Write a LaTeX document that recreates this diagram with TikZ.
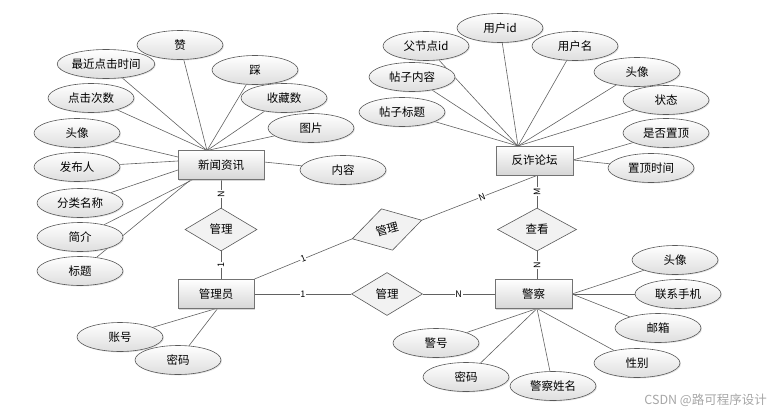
\documentclass[tikz,border=0pt]{standalone}
\usepackage{fontspec}
\setmainfont{Noto Sans CJK SC}
\usetikzlibrary{shapes.geometric,shadows}
\pgfdeclarelayer{bg}
\pgfsetlayers{bg,main}
\begin{document}
\begin{tikzpicture}[x=1pt,y=-1pt,
  txt/.style={font=\fontsize{11.5}{13}\selectfont},
  ent/.style={txt, draw=black!55, line width=0.9pt, top color=white, bottom color=black!16,
    minimum width=77pt, minimum height=29pt, inner sep=0pt,
    drop shadow={shadow xshift=1.3pt, shadow yshift=-1.3pt, fill=black!30}},
  attr/.style={txt, ellipse, draw=black!65, line width=0.6pt, top color=white, bottom color=black!13,
    minimum width=86pt, minimum height=29pt, inner sep=0pt,
    drop shadow={shadow xshift=1pt, shadow yshift=-1pt, fill=black!20}},
  rel/.style={txt, diamond, draw=black!65, line width=0.6pt, fill=black!5,
    minimum width=72pt, minimum height=43pt, inner sep=0pt, aspect=1.67},
  ln/.style={draw=black!62, line width=0.6pt},
  card/.style={fill=white, inner sep=0.6pt, font=\fontsize{9}{9}\selectfont}
]
\useasboundingbox (0,0) rectangle (775,415);

% entities
\node[ent, minimum width=86pt] (xw) at (221,165) {新闻资讯};
\node[ent] (ft) at (534.5,160.5) {反诈论坛};
\node[ent, minimum width=76pt] (gly) at (216,294) {管理员};
\node[ent] (jc) at (533.5,294) {警察};

% relationships
\node[rel] (r1) at (221,229.5) {管理};
\node[rel, minimum width=79pt] (ck) at (537,229.5) {查看};
\node[rel, minimum width=71pt] (r2) at (387,294) {管理};
\node[rel, rotate=15] (r3) at (387,229.5) {管理};

% attributes of 新闻资讯
\node[attr] (a1) at (180,45) {赞};
\node[attr] (a2) at (106,64) {最近点击时间};
\node[attr] (a3) at (255,70) {踩};
\node[attr] (a4) at (91,98) {点击次数};
\node[attr] (a5) at (284,98) {收藏数};
\node[attr] (a6) at (77,133) {头像};
\node[attr] (a7) at (311,128) {图片};
\node[attr] (a8) at (77,167) {发布人};
\node[attr] (a9) at (343,170) {内容};
\node[attr] (a10) at (80,203) {分类名称};
\node[attr] (a11) at (80,237) {简介};
\node[attr] (a12) at (80,271) {标题};

% attributes of 反诈论坛
\node[attr] (b1) at (500,28) {用户id};
\node[attr] (b2) at (426,46) {父节点id};
\node[attr] (b3) at (575,46) {用户名};
\node[attr] (b4) at (412,77) {帖子内容};
\node[attr] (b5) at (637,72) {头像};
\node[attr] (b6) at (402,112) {帖子标题};
\node[attr] (b7) at (666,100) {状态};
\node[attr] (b8) at (666,133) {是否置顶};
\node[attr] (b9) at (651,168) {置顶时间};

% attributes of 管理员
\node[attr] (c1) at (120,337) {账号};
\node[attr] (c2) at (178,360) {密码};

% attributes of 警察
\node[attr] (d1) at (675,260) {头像};
\node[attr] (d2) at (678,294) {联系手机};
\node[attr] (d3) at (658,328) {邮箱};
\node[attr] (d4) at (637,363) {性别};
\node[attr] (d5) at (436,343) {警号};
\node[attr] (d6) at (466,377) {密码};
\node[attr] (d7) at (553,386) {警察姓名};

% connection points
\coordinate (xwt) at (207,150.5);
\coordinate (xwl1) at (178,157);
\coordinate (xwl2) at (178,161);
\coordinate (xwl3) at (178,170);
\coordinate (xwb1) at (193,179.5);
\coordinate (xwb2) at (191,179.5);
\coordinate (xwr) at (264,162);
\coordinate (ftt) at (518,146);
\coordinate (ftr) at (573,160);
\coordinate (glyb) at (218,308);
\coordinate (jcr) at (572,294);
\coordinate (jcb) at (537,308.5);
\coordinate (ftb) at (ck.north |- ft.south);

\begin{pgfonlayer}{bg}
% relationship lines
\draw[ln] (xw.south) -- (r1.north) node[midway, card, rotate=90] {N};
\draw[ln] (r1.south) -- (r1.south |- gly.north) node[midway, card, rotate=90] {1};
\draw[ln] (gly.east) -- (r2.west) node[midway, card] {1};
\draw[ln] (r2.east) -- (jc.west) node[midway, card] {N};
\draw[ln] (gly.north east) -- (r3.west) node[midway, card, sloped] {1};
\draw[ln] (r3.east) -- (ftb) node[pos=0.52, card, sloped] {N};
\draw[ln] (ftb) -- (ck.north) node[midway, card, rotate=90] {M};
\draw[ln] (ck.south) -- (ck.south |- jc.north) node[midway, card, rotate=90] {N};
% attribute lines
\foreach \a in {a1,a2,a3,a4,a5,a7} \draw[ln] (\a) -- (xwt);
\draw[ln] (a6) -- (xwl1);
\draw[ln] (a8) -- (xwl2);
\draw[ln] (a10) -- (xwl3);
\draw[ln] (a11) -- (xwb1);
\draw[ln] (a12) -- (xwb2);
\draw[ln] (a9) -- (xwr);
\foreach \b in {b1,b2,b3,b4,b5,b6,b7} \draw[ln] (\b) -- (ftt);
\draw[ln] (b8) -- (ftr);
\draw[ln] (b9) -- (ftr);
\draw[ln] (c1) -- (glyb);
\draw[ln] (c2) -- (glyb);
\foreach \d in {d1,d2,d3} \draw[ln] (\d) -- (jcr);
\foreach \d in {d4,d5,d6,d7} \draw[ln] (\d) -- (jcb);
\end{pgfonlayer}

% watermark
\node[font=\fontsize{12.5}{13}\selectfont, text=black!35, anchor=east, inner sep=0pt] (wm) at (767,400) {CSDN @路可程序设计};
\end{tikzpicture}
\end{document}
